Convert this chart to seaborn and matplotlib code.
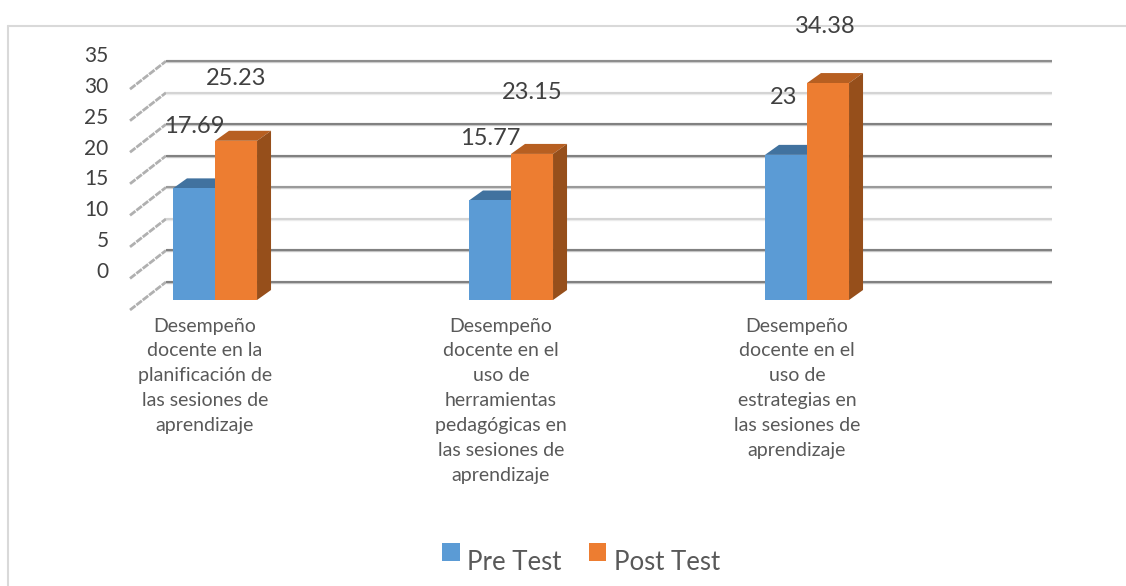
import matplotlib
matplotlib.use("Agg")
import matplotlib.pyplot as plt
import pandas as pd
import seaborn as sns
from matplotlib.lines import Line2D
from matplotlib.patches import Polygon
from matplotlib.transforms import ScaledTranslation

categories = [
    "Desempeño\ndocente en la\nplanificación de\nlas sesiones de\naprendizaje",
    "Desempeño\ndocente en el\nuso de\nherramientas\npedagógicas en\nlas sesiones de\naprendizaje",
    "Desempeño\ndocente en el\nuso de\nestrategias en\nlas sesiones de\naprendizaje",
]
pre_test = [17.69, 15.77, 23]
post_test = [25.23, 23.15, 34.38]
y_ticks = [0, 5, 10, 15, 20, 25, 30, 35]
grid_colors = ["#808080", "#808080", "#d4d4d4", "#999999", "#808080", "#808080", "#d4d4d4", "#8c8c8c"]

BLUE = "#5b9bd5"
ORANGE = "#ed7d31"

sns.set_theme(style="white")
plt.rcParams["font.family"] = ["Lato", "DejaVu Sans"]

W, H = 1126, 586
df = pd.DataFrame({
    "cat": categories * 2,
    "serie": ["Pre Test"] * 3 + ["Post Test"] * 3,
    "valor": pre_test + post_test,
})

fig = plt.figure(figsize=(W / 100, H / 100), dpi=100)
ax = fig.add_axes([130 / W, 1 - 310 / H, (1052 - 130) / W, 290 / H])
ax.patch.set_visible(False)
sns.barplot(data=df, x="cat", y="valor", hue="serie", hue_order=["Pre Test", "Post Test"],
            palette=[BLUE, ORANGE], width=0.284, gap=0, saturation=1, linewidth=0, ax=ax, zorder=4)

# px per unit on the value axis is 6.31, per category 296
ax.set_xlim(-85 / 296, (1052 - 215) / 296)
ax.set_ylim(-10 / 6.31, 280 / 6.31)
sns.despine(ax=ax, left=True, bottom=True)
ax.set_xlabel("")
ax.set_ylabel("")
ax.set_yticks([])


def px_x(p):
    return p / 296


def px_y(p):
    return p / 6.31


# back wall lines, shifted 18 px up from the bar plane, start 36 px right of the floor corner
wall = ax.transData + ScaledTranslation(0, 18 / 100, fig.dpi_scale_trans)
x0, x1 = ax.get_xlim()
for v, c in zip(y_ticks, grid_colors):
    ax.plot([x0 + px_x(36), x1], [v, v], color=c, lw=2.4, alpha=0.45, transform=wall, zorder=1,
            solid_capstyle="butt")
    ax.plot([x0 + px_x(36), x1], [v, v], color=c, lw=1.4, transform=wall, zorder=1.1,
            solid_capstyle="butt")
    # side wall strokes
    ax.plot([x0, x0 + px_x(36)], [v - px_y(10), v + px_y(18)], color="#b0b0b0", lw=2,
            ls=(0, (2.5, 0.4)), transform=ax.transData, zorder=1, clip_on=False)


# depth faces of the bars, worked out from what seaborn drew
dx, dy = px_x(14), px_y(10)
for cont, top_col, side_col in zip(ax.containers, ["#41729f", "#b75f21"], ["#41729f", "#964f1b"]):
    for bar in cont:
        l, r, t = bar.get_x(), bar.get_x() + bar.get_width(), bar.get_height()
        ax.add_patch(Polygon([(l, t), (r, t), (r + dx, t + dy), (l + dx, t + dy)], color=top_col, lw=0, zorder=3))
        ax.add_patch(Polygon([(r, 0), (r + dx, dy), (r + dx, t + dy), (r, t)], color=side_col, lw=0, zorder=3))
for bar in ax.containers[1]:
    bar.set_zorder(5)

for cont, vals in zip(ax.containers, [pre_test, post_test]):
    texts = ax.bar_label(cont, labels=[f"{v:g}" for v in vals], padding=37, fontsize=17, color="#404040", zorder=6)
    # the labels of the last group sit a little lower and to the left
    x, y = texts[2].xyann
    texts[2].xyann = (x - 2, y - 3.5)

ax.tick_params(axis="x", length=0, pad=5.5, labelsize=14, labelcolor="#595959")
shift = ScaledTranslation(-10 / 100, 0, fig.dpi_scale_trans)
for t in ax.get_xticklabels():
    t.set_linespacing(1.56)
    t.set_va("top")
    t.set_transform(t.get_transform() + shift)

# the value labels sit about 30 px above their line and are slightly tighter than the grid
sec = ax.secondary_yaxis("left", functions=(lambda p: (p - 30 / 6.31) / 0.978,
                                            lambda v: 30 / 6.31 + v * 0.978))
sec.set_yticks(y_ticks)
sec.tick_params(length=0, pad=15.5, labelsize=15, labelcolor="#404040")
sec.spines["left"].set_visible(False)

leg = ax.legend(loc="center", bbox_to_anchor=(581 / W, 1 - 563 / H), bbox_transform=fig.transFigure,
                ncol=2, frameon=False, fontsize=18.5, handlelength=0.68, handleheight=0.68,
                handletextpad=0.3, columnspacing=1.05, labelcolor="#595959")
for h in leg.legend_handles:
    h.set_y(7)

# chart area outline: only top and left survive the crop, drawn behind the labels
fig.add_artist(Line2D([8 / W, 1], [1 - 25.5 / H, 1 - 25.5 / H], color="#d9d9d9", lw=1.5, zorder=-1))
fig.add_artist(Line2D([8 / W, 8 / W], [0, 1 - 25.5 / H], color="#d9d9d9", lw=1.5, zorder=-1))

fig.savefig("out.png", dpi=100)
